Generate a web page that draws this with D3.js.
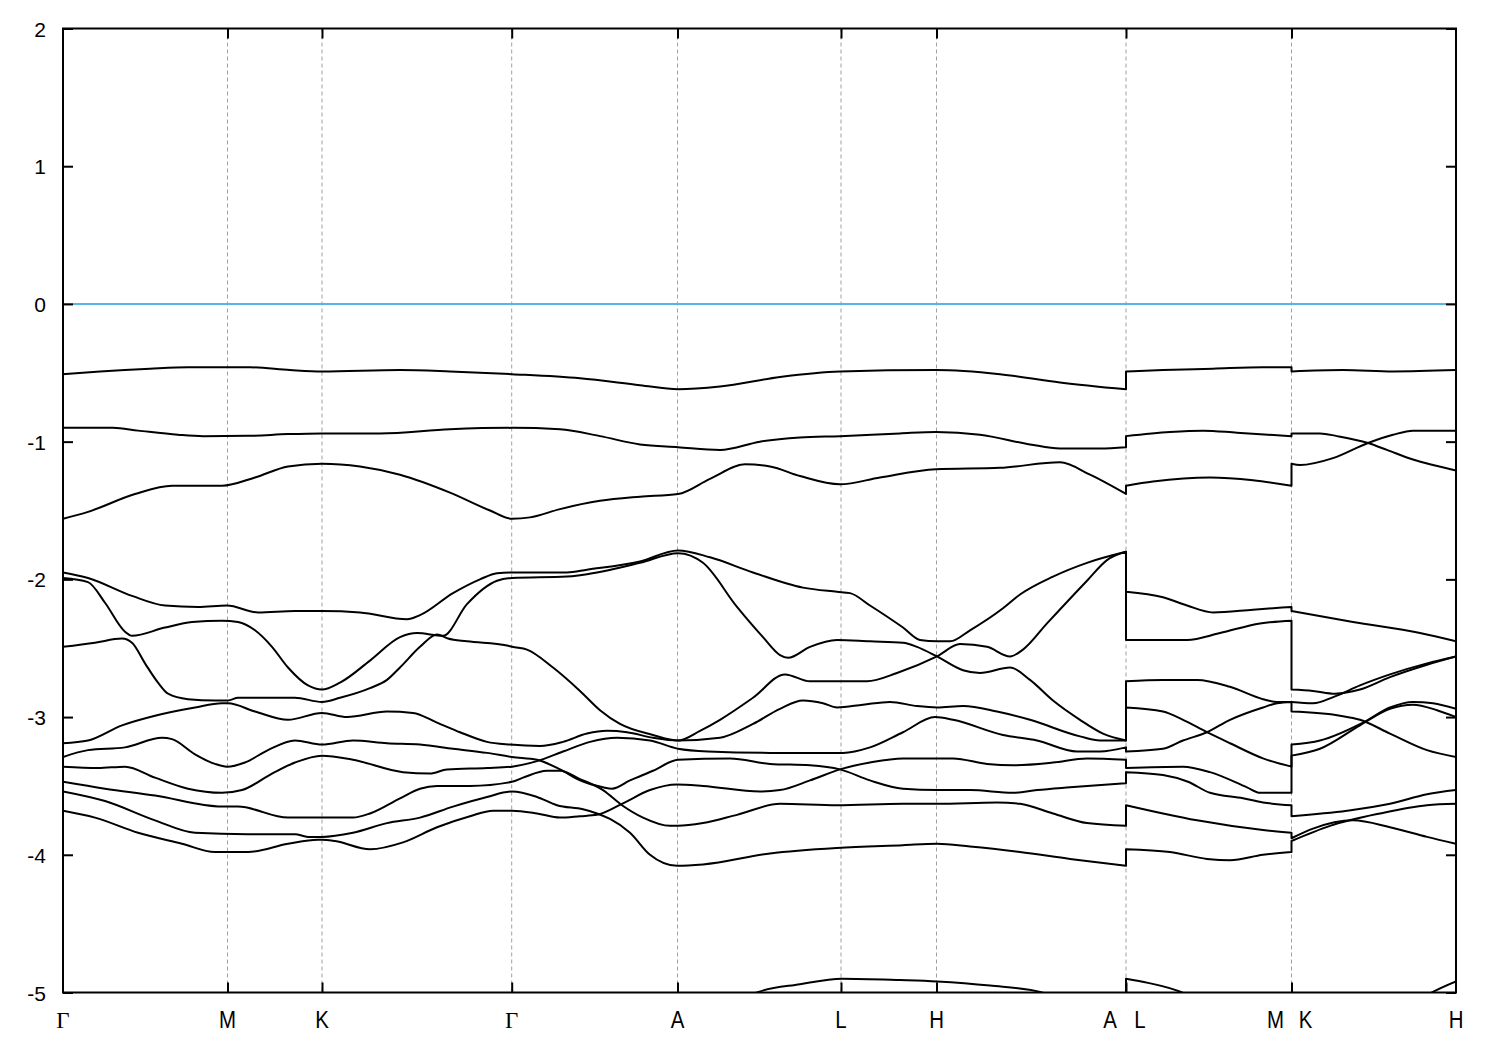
<!DOCTYPE html>
<html><head><meta charset="utf-8">
<script src="https://cdn.jsdelivr.net/npm/d3@7"></script>
<style>body{margin:0;background:#fff}svg{display:block}</style>
</head><body>
<svg id="chart" width="1500" height="1050"></svg>
<script>
// ---- high-symmetry path (k in arbitrary path units) ----
const kPos = [0, 0.1645, 0.259, 0.4487, 0.6145, 0.778, 0.8735, 1.063, 1.2285, 1.393];
const kLabels = ["Γ","M","K","Γ","A","L","H","A|L","M|K","H"];
const yTicks = [-5,-4,-3,-2,-1,0,1,2];
const yTickLabels = ["-5","-4","-3","-2","-1","0","1","2"];
const fermiLevel = [0];
const energyRange = [-5, 2];

// ---- bands: three pieces each (Γ-M-K-Γ-A-L-H-A | L-M | K-H), points [k, E] ----
const band01 = [
 [[0,-0.51],[.037,-0.49],[.087,-0.47],[.125,-0.46],[.187,-0.46],[.227,-0.48],[.259,-0.49],[.337,-0.48],[.387,-0.49],[.449,-0.51],[.517,-0.54],[.577,-0.59],[.615,-0.62],[.657,-0.60],[.717,-0.53],[.777,-0.49],[.873,-0.48],[.937,-0.51],[.997,-0.57],[1.063,-0.62]],
 [[1.063,-0.49],[1.1,-0.48],[1.15,-0.47],[1.2,-0.46],[1.2285,-0.46]],
 [[1.2285,-0.49],[1.28,-0.48],[1.33,-0.49],[1.393,-0.48]]
];
const band02 = [
 [[0,-0.90],[.050,-0.90],[.075,-0.92],[.115,-0.95],[.140,-0.96],[.185,-0.958],[.225,-0.945],[.259,-0.94],[.317,-0.94],[.387,-0.91],[.449,-0.90],[.497,-0.91],[.537,-0.96],[.577,-1.02],[.615,-1.04],[.657,-1.06],[.697,-1.00],[.737,-0.97],[.777,-0.96],[.837,-0.94],[.873,-0.93],[.917,-0.95],[.967,-1.02],[.997,-1.05],[1.037,-1.05],[1.063,-1.04]],
 [[1.063,-0.96],[1.107,-0.93],[1.140,-0.92],[1.174,-0.935],[1.2285,-0.96]],
 [[1.2285,-0.94],[1.257,-0.94],[1.274,-0.96],[1.305,-1.01],[1.324,-1.06],[1.350,-1.13],[1.370,-1.17],[1.393,-1.21]]
];
const band03 = [
 [[0,-1.56],[.025,-1.51],[.072,-1.38],[.109,-1.32],[.159,-1.32],[.192,-1.26],[.225,-1.18],[.259,-1.16],[.297,-1.18],[.337,-1.24],[.387,-1.37],[.427,-1.50],[.449,-1.56],[.467,-1.55],[.497,-1.49],[.537,-1.43],[.577,-1.40],[.615,-1.38],[.647,-1.27],[.682,-1.165],[.707,-1.18],[.737,-1.25],[.777,-1.31],[.817,-1.26],[.873,-1.20],[.937,-1.19],[.997,-1.15],[1.027,-1.24],[1.063,-1.38]],
 [[1.063,-1.32],[1.090,-1.29],[1.147,-1.26],[1.190,-1.28],[1.2285,-1.32]],
 [[1.2285,-1.16],[1.237,-1.17],[1.270,-1.12],[1.305,-1.01],[1.330,-0.95],[1.350,-0.92],[1.393,-0.92]]
];
const band04 = [
 [[0,-1.95],[.025,-1.99],[.069,-2.12],[.102,-2.19],[.135,-2.20],[.164,-2.19],[.195,-2.24],[.232,-2.23],[.259,-2.23],[.297,-2.24],[.344,-2.29],[.357,-2.26],[.390,-2.10],[.417,-2.00],[.434,-1.955],[.449,-1.95],[.504,-1.95],[.524,-1.93],[.577,-1.87],[.615,-1.79],[.647,-1.84],[.690,-1.95],[.740,-2.06],[.774,-2.09],[.787,-2.10],[.807,-2.19],[.840,-2.35],[.857,-2.44],[.874,-2.45],[.887,-2.45],[.907,-2.37],[.940,-2.21],[.957,-2.11],[.990,-1.98],[1.024,-1.88],[1.063,-1.80]],
 [[1.063,-2.09],[1.100,-2.13],[1.124,-2.19],[1.150,-2.24],[1.190,-2.22],[1.2285,-2.20]],
 [[1.2285,-2.23],[1.290,-2.31],[1.357,-2.39],[1.393,-2.45]]
];
const band05 = [
 [[0,-1.99],[.025,-2.02],[.042,-2.17],[.062,-2.38],[.069,-2.41],[.102,-2.35],[.129,-2.31],[.159,-2.30],[.175,-2.31],[.192,-2.37],[.209,-2.49],[.225,-2.64],[.245,-2.77],[.259,-2.80],[.277,-2.75],[.307,-2.59],[.337,-2.42],[.354,-2.39],[.380,-2.41],[.404,-2.18],[.434,-2.01],[.449,-1.99],[.504,-1.98],[.534,-1.95],[.577,-1.88],[.615,-1.81],[.640,-1.88],[.674,-2.20],[.700,-2.42],[.717,-2.55],[.725,-2.57],[.747,-2.49],[.774,-2.44],[.807,-2.45],[.840,-2.46],[.854,-2.49],[.874,-2.56],[.900,-2.66],[.917,-2.68],[.947,-2.64],[.967,-2.73],[.990,-2.88],[1.017,-3.02],[1.040,-3.12],[1.063,-3.17]],
 [[1.063,-2.74],[1.100,-2.73],[1.134,-2.73],[1.167,-2.78],[1.200,-2.87],[1.214,-2.89],[1.2285,-2.89]],
 [[1.2285,-2.89],[1.250,-2.90],[1.272,-2.85],[1.297,-2.77],[1.327,-2.69],[1.364,-2.61],[1.393,-2.56]]
];
const band06 = [
 [[0,-2.49],[.032,-2.46],[.059,-2.43],[.069,-2.46],[.082,-2.61],[.095,-2.75],[.105,-2.83],[.125,-2.87],[.152,-2.88],[.165,-2.88],[.175,-2.86],[.209,-2.86],[.232,-2.86],[.259,-2.89],[.277,-2.86],[.307,-2.79],[.324,-2.73],[.337,-2.64],[.357,-2.49],[.374,-2.40],[.385,-2.43],[.404,-2.45],[.444,-2.48],[.449,-2.49],[.464,-2.51],[.490,-2.64],[.517,-2.81],[.537,-2.95],[.557,-3.05],[.590,-3.13],[.615,-3.17],[.637,-3.10],[.657,-3.02],[.690,-2.86],[.722,-2.69],[.747,-2.74],[.774,-2.74],[.804,-2.74],[.834,-2.68],[.874,-2.56],[.897,-2.47],[.924,-2.49],[.947,-2.56],[.960,-2.51],[.984,-2.32],[1.024,-2.01],[1.044,-1.86],[1.063,-1.80]],
 [[1.063,-2.44],[1.124,-2.44],[1.157,-2.39],[1.197,-2.32],[1.2285,-2.30]],
 [[1.2285,-2.80],[1.250,-2.81],[1.272,-2.83],[1.297,-2.80],[1.327,-2.71],[1.364,-2.62],[1.393,-2.56]]
];
const band07 = [
 [[0,-3.19],[.025,-3.17],[.059,-3.06],[.092,-2.99],[.132,-2.93],[.159,-2.90],[.165,-2.90],[.192,-2.96],[.225,-3.02],[.259,-2.97],[.284,-3.00],[.324,-2.96],[.350,-2.97],[.374,-3.04],[.397,-3.11],[.424,-3.18],[.447,-3.20],[.477,-3.21],[.500,-3.18],[.524,-3.12],[.544,-3.10],[.564,-3.11],[.590,-3.15],[.615,-3.17],[.657,-3.15],[.690,-3.05],[.717,-2.94],[.740,-2.88],[.760,-2.90],[.774,-2.93],[.800,-2.91],[.827,-2.89],[.854,-2.92],[.874,-2.93],[.900,-2.92],[.934,-2.96],[.967,-3.02],[1.017,-3.14],[1.037,-3.17],[1.063,-3.17]],
 [[1.063,-2.93],[1.100,-2.96],[1.120,-3.02],[1.144,-3.11],[1.167,-3.19],[1.200,-3.30],[1.2285,-3.36]],
 [[1.2285,-3.20],[1.257,-3.17],[1.300,-3.04],[1.327,-2.93],[1.350,-2.89],[1.370,-2.90],[1.393,-2.94]]
];
const band08 = [
 [[0,-3.29],[.025,-3.24],[.062,-3.22],[.099,-3.15],[.109,-3.16],[.132,-3.27],[.152,-3.34],[.164,-3.36],[.182,-3.33],[.205,-3.24],[.232,-3.17],[.259,-3.20],[.290,-3.17],[.324,-3.19],[.357,-3.20],[.390,-3.23],[.424,-3.26],[.449,-3.29],[.474,-3.31],[.497,-3.38],[.517,-3.46],[.540,-3.51],[.549,-3.52],[.567,-3.46],[.590,-3.39],[.615,-3.31],[.667,-3.30],[.707,-3.34],[.747,-3.35],[.777,-3.38],[.807,-3.46],[.840,-3.52],[.874,-3.53],[.907,-3.53],[.950,-3.55],[.974,-3.53],[1.007,-3.51],[1.063,-3.48]],
 [[1.063,-3.40],[1.100,-3.42],[1.125,-3.47],[1.147,-3.55],[1.180,-3.59],[1.200,-3.62],[1.2285,-3.64]],
 [[1.2285,-3.72],[1.284,-3.68],[1.327,-3.63],[1.364,-3.56],[1.393,-3.53]]
];
const band09 = [
 [[0,-3.36],[.035,-3.37],[.062,-3.36],[.092,-3.44],[.125,-3.52],[.159,-3.55],[.179,-3.53],[.209,-3.41],[.232,-3.33],[.259,-3.28],[.290,-3.31],[.340,-3.40],[.367,-3.41],[.384,-3.38],[.424,-3.37],[.449,-3.36],[.474,-3.32],[.500,-3.25],[.527,-3.18],[.554,-3.15],[.587,-3.17],[.615,-3.23],[.645,-3.25],[.707,-3.26],[.780,-3.26],[.807,-3.22],[.840,-3.11],[.872,-3.00],[.890,-3.02],[.940,-3.13],[.974,-3.17],[1.014,-3.25],[1.037,-3.25],[1.063,-3.22]],
 [[1.063,-3.25],[1.100,-3.23],[1.120,-3.17],[1.144,-3.11],[1.167,-3.02],[1.200,-2.93],[1.214,-2.90],[1.2285,-2.89]],
 [[1.2285,-2.96],[1.277,-2.99],[1.297,-3.02],[1.327,-3.12],[1.364,-3.24],[1.393,-3.29]]
];
const band10 = [
 [[0,-3.47],[.042,-3.52],[.092,-3.57],[.159,-3.65],[.175,-3.65],[.225,-3.73],[.259,-3.73],[.290,-3.73],[.307,-3.70],[.337,-3.59],[.357,-3.52],[.374,-3.50],[.407,-3.50],[.449,-3.47],[.460,-3.44],[.484,-3.39],[.497,-3.39],[.517,-3.45],[.540,-3.53],[.559,-3.64],[.580,-3.73],[.607,-3.79],[.615,-3.79],[.640,-3.77],[.674,-3.71],[.717,-3.63],[.774,-3.64],[.840,-3.63],[.874,-3.63],[.934,-3.62],[.957,-3.63],[.990,-3.70],[1.024,-3.77],[1.063,-3.79]],
 [[1.063,-3.64],[1.100,-3.70],[1.134,-3.75],[1.200,-3.82],[1.2285,-3.84]],
 [[1.2285,-3.88],[1.250,-3.81],[1.290,-3.75],[1.327,-3.80],[1.364,-3.87],[1.393,-3.92]]
];
const band11 = [
 [[0,-3.54],[.042,-3.61],[.092,-3.75],[.132,-3.84],[.185,-3.85],[.232,-3.85],[.245,-3.87],[.259,-3.87],[.290,-3.84],[.324,-3.77],[.357,-3.73],[.390,-3.65],[.424,-3.58],[.449,-3.54],[.474,-3.58],[.494,-3.64],[.520,-3.67],[.534,-3.70],[.547,-3.74],[.567,-3.84],[.587,-4.00],[.614,-4.08],[.640,-4.07],[.707,-3.99],[.774,-3.95],[.840,-3.93],[.874,-3.92],[.907,-3.94],[.957,-3.98],[1.007,-4.03],[1.063,-4.08]],
 [[1.063,-3.96],[1.107,-3.98],[1.144,-4.03],[1.167,-4.04],[1.200,-4.00],[1.2285,-3.98]],
 [[1.2285,-3.90],[1.267,-3.79],[1.317,-3.70],[1.364,-3.64],[1.393,-3.63]]
];
const band12 = [
 [[0,-3.68],[.032,-3.73],[.075,-3.84],[.119,-3.92],[.152,-3.98],[.185,-3.98],[.225,-3.92],[.255,-3.89],[.259,-3.89],[.272,-3.90],[.307,-3.96],[.340,-3.91],[.374,-3.80],[.407,-3.72],[.430,-3.68],[.449,-3.68],[.474,-3.70],[.497,-3.73],[.517,-3.72],[.534,-3.71],[.559,-3.63],[.587,-3.53],[.614,-3.49],[.640,-3.50],[.697,-3.54],[.717,-3.53],[.747,-3.46],[.777,-3.38],[.807,-3.33],[.840,-3.30],[.890,-3.30],[.924,-3.34],[.950,-3.35],[.990,-3.33],[1.024,-3.30],[1.063,-3.31]],
 [[1.063,-3.37],[1.120,-3.36],[1.147,-3.40],[1.184,-3.51],[1.197,-3.55],[1.2285,-3.55]],
 [[1.2285,-3.28],[1.257,-3.23],[1.297,-3.06],[1.327,-2.94],[1.350,-2.91],[1.374,-2.95],[1.393,-3.00]]
];
const band13 = [
 [[0,-5.9],[.165,-6.0],[.259,-6.0],[.449,-5.9],[.615,-5.45],[.650,-5.2],[.694,-5.0],[.737,-4.94],[.779,-4.90],[.837,-4.91],[.874,-4.92],[.927,-4.95],[.979,-5.0],[1.020,-5.15],[1.063,-5.3]],
 [[1.063,-4.90],[1.085,-4.93],[1.119,-5.0],[1.160,-5.2],[1.2285,-5.4]],
 [[1.2285,-5.6],[1.300,-5.4],[1.369,-5.0],[1.393,-4.92]]
];
const bands = [band01,band02,band03,band04,band05,band06,band07,band08,band09,band10,band11,band12,band13];

// ---- drawing ----
const svg = d3.select("#chart");
const L = 63, R = 1456, T = 28.5, B = 992.5;
const x = d3.scaleLinear().domain([kPos[0], kPos[kPos.length-1]]).range([L, R]);
const y = d3.scaleLinear().domain(energyRange).range([B, T]);
const interior = kPos.slice(1, -1);
const sans = "'Liberation Sans', Arial, Helvetica, sans-serif";

svg.append("rect").attr("width",1500).attr("height",1050).attr("fill","#fff");

svg.append("defs").append("clipPath").attr("id","plotClip")
  .append("rect").attr("x",L).attr("y",T).attr("width",R-L).attr("height",B-T);

// grid
svg.append("g").selectAll("line").data(interior).join("line")
  .attr("x1",d=>x(d)).attr("x2",d=>x(d)).attr("y1",T).attr("y2",B)
  .attr("stroke","#a0a0a0").attr("stroke-width",1).attr("stroke-dasharray","4,3");

// fermi level
svg.append("g").selectAll("line").data(fermiLevel).join("line")
  .attr("x1",L).attr("x2",R).attr("y1",d=>y(d)).attr("y2",d=>y(d))
  .attr("stroke","rgb(86,180,233)").attr("stroke-width",2);

// bands
const lineGen = d3.line().x(d=>x(d[0])).y(d=>y(d[1])).curve(d3.curveMonotoneX);
function bandPath(pieces){
  return pieces.map((p,i)=>{ const s = lineGen(p); return i===0 ? s : "L" + s.slice(1); }).join("");
}
svg.append("g").attr("clip-path","url(#plotClip)")
  .selectAll("path").data(bands).join("path")
  .attr("d", bandPath)
  .attr("fill","none").attr("stroke","#000").attr("stroke-width",2)
  .attr("stroke-linejoin","round");

// axes ticks
function styleAxis(g){
  g.select(".domain").remove();
  g.selectAll(".tick line").attr("stroke","#000").attr("stroke-width",2);
}
svg.append("g").attr("transform",`translate(${L},0)`)
  .call(d3.axisLeft(y).tickValues(yTicks).tickFormat((d,i)=>yTickLabels[i]).tickSize(-10).tickPadding(17))
  .call(styleAxis)
  .call(g=>g.selectAll("text").attr("font-family",sans).attr("font-size",21).attr("fill","#000").attr("dy","0.36em"));
svg.append("g").attr("transform",`translate(${R},0)`)
  .call(d3.axisRight(y).tickValues(yTicks).tickFormat("").tickSize(-10)).call(styleAxis);
svg.append("g").attr("transform",`translate(0,${B})`)
  .call(d3.axisBottom(x).tickValues(interior).tickFormat("").tickSize(-10)).call(styleAxis);
svg.append("g").attr("transform",`translate(0,${T})`)
  .call(d3.axisTop(x).tickValues(interior).tickFormat("").tickSize(-10)).call(styleAxis);

// border
svg.append("rect").attr("x",L).attr("y",T).attr("width",R-L).attr("height",B-T)
  .attr("fill","none").attr("stroke","#000").attr("stroke-width",2);

// x labels
const xLab = [];
kPos.forEach((k,i)=>{
  const parts = kLabels[i].split("|");
  if(parts.length===1) xLab.push({k, t:parts[0], dx:0});
  else { xLab.push({k, t:parts[0], dx:-16}); xLab.push({k, t:parts[1], dx:14}); }
});
svg.append("g").selectAll("text").data(xLab).join("text")
  .attr("transform",d=>`translate(${x(d.k)+d.dx},1028) scale(${d.t==="Γ"?1:0.85},1)`)
  .attr("text-anchor","middle")
  .attr("font-family",d=>d.t==="Γ" ? "'Liberation Serif','Times New Roman',serif" : sans)
  .attr("font-size",d=>d.t==="Γ" ? 23 : 24)
  .attr("fill","#000")
  .text(d=>d.t);
</script>
</body></html>
